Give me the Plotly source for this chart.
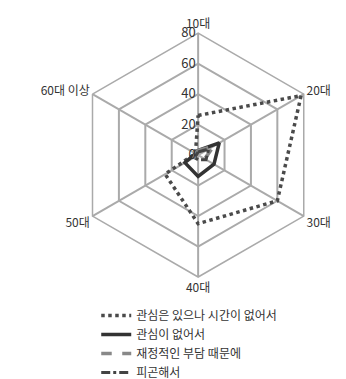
import plotly.graph_objects as go

ages = ['10대', '20대', '30대', '40대', '50대', '60대 이상']
no_time = [26, 78, 60, 45, 25, 2]
no_interest = [3, 16, 12, 14, 10, 2]
money = [3, 12, 5, 3, 3, 2]
tired = [2, 8, 6, 3, 3, 1]
names = ['관심은 있으나 시간이 없어서', '관심이 없어서', '재정적인 부담 때문에', '피곤해서']

fig = go.Figure()
styles = [('#4a4a4a', 'dot', 3.5), ('#333333', 'solid', 3.5), ('#888888', 'dash', 3.5), ('#444444', 'dashdot', 3)]
for vals, name, (c, d, w) in zip([no_time, no_interest, money, tired], names, styles):
    fig.add_trace(go.Scatterpolar(r=vals + vals[:1], theta=ages + ages[:1], mode='lines', name=name,
                                  line=dict(color=c, dash=d, width=w)))

fig.update_layout(
    width=346, height=379, margin=dict(l=0, r=0, t=0, b=0, autoexpand=False),
    paper_bgcolor='white', font=dict(family='Noto Sans CJK KR', size=12, color='#333'),
    polar=dict(
        domain=dict(x=[0.197, 0.902], y=[0.29, 0.934]),
        gridshape='linear', bgcolor='white',
        radialaxis=dict(range=[0, 80], tickvals=[0, 20, 40, 60, 80], angle=90, tickangle=90,
                        side='counterclockwise',
                        showline=False, gridcolor='#aaaaaa', gridwidth=1.5, ticks='',
                        tickfont=dict(size=13, color='#333')),
        angularaxis=dict(rotation=90, direction='clockwise', gridcolor='#aaaaaa', gridwidth=1.5,
                         linecolor='#aaaaaa', linewidth=1.5, ticks='',
                         tickfont=dict(size=12, color='#333')),
    ),
    legend=dict(x=0.255, y=0.0, xanchor='left', yanchor='bottom', tracegroupgap=0,
                font=dict(size=12, color='#333'), itemwidth=30),
)
fig.write_html('out.html')
